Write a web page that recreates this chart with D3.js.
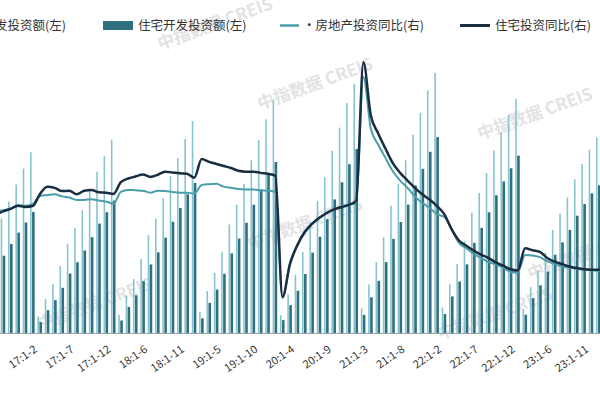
<!DOCTYPE html>
<html><head><meta charset="utf-8">
<script src="https://cdn.jsdelivr.net/npm/d3@7"></script>
<style>body{margin:0;background:#fff}svg{font-family:"Noto Sans CJK SC",sans-serif}</style>
</head><body><svg id="c" width="600" height="400"></svg>
<script>
// months: Jan-Feb combined, 11 points per year
const years = [16, 17, 18, 19, 20, 21, 22, 23];
const months = ["1-2","1-3","1-4","1-5","1-6","1-7","1-8","1-9","1-10","1-11","1-12"];
const categories = [];
years.forEach(y => months.forEach(m => categories.push(y + ":" + m)));
categories.push("24:1-2");

// 房地产开发投资额 (亿元, cumulative)
const reInvest = [
  8975,17677,25917,35820,46631,55676,64964,74598,84254,93387,102581,
  9478,19292,27732,37970,50610,59761,69694,80644,91533,100387,109799,
  10357,21292,30592,42000,55531,64869,76519,88948,99325,110083,120264,
  12090,23803,34217,46075,61609,72843,84589,98008,109603,121265,132194,
  10115,21963,33103,45920,62780,74895,88454,103484,116556,130492,141443,
  13986,27576,40240,54318,72179,84895,98010,112559,124934,137681,147602,
  14499,27765,39154,52134,68314,79462,90809,103559,113945,123863,132895,
  13669,25974,35514,45701,58550,67717,76900,87269,95922,104045,110913,
  11842];
// 住宅开发投资额
const resInvest = [
  6047,11840,17409,24154,31412,37390,43870,50511,56968,62728,68704,
  6219,12963,18663,25647,33723,40127,46835,54434,62078,68563,75148,
  7084,14770,21377,29400,38894,45751,54117,63152,70902,78771,85192,
  8318,17099,24680,33585,45167,53621,62538,72756,81493,90174,97071,
  7314,15804,23965,33515,45618,54648,64649,75830,85553,95802,104446,
  10277,20271,29610,40227,53375,62972,72874,83792,93179,102865,111173,
  10739,20761,29227,38970,51179,59690,68528,78208,86022,93521,100646,
  10363,19767,27072,34866,44439,51448,58528,66592,73204,79280,83820,
  8996];
// 房地产投资同比 (%)
const reYoy = [
  3.0,6.2,7.2,7.0,6.1,5.3,5.4,5.8,6.6,6.5,6.9,
  8.9,9.1,9.3,8.8,8.5,7.9,7.9,8.1,7.8,7.5,7.0,
  9.9,10.4,10.3,10.2,9.7,10.2,10.1,9.9,9.7,9.7,9.5,
  11.6,11.8,11.9,11.2,10.9,10.6,10.5,10.5,10.3,10.2,9.9,
  -16.3,-7.7,-3.3,-0.3,1.9,3.4,4.6,5.6,6.3,6.8,7.0,
  38.3,25.6,21.6,18.3,15.0,12.7,10.9,8.8,7.2,6.0,4.4,
  3.7,0.7,-2.7,-4.0,-5.4,-6.4,-7.4,-8.0,-8.8,-9.8,-10.0,
  -5.7,-5.8,-6.2,-7.2,-7.9,-8.5,-8.8,-9.1,-9.3,-9.4,-9.6,
  -9.0];
// 住宅投资同比 (%)
const resYoy = [
  1.8,5.2,6.6,6.0,5.2,4.5,5.1,5.7,6.5,6.2,6.4,
  9.4,11.2,10.9,10.1,10.2,9.3,10.2,10.4,9.8,9.7,9.4,
  12.3,13.2,13.7,14.2,13.6,14.1,14.9,14.7,14.5,14.4,13.4,
  18.0,17.3,16.8,16.3,15.8,15.1,14.9,14.9,14.6,14.4,13.9,
  -16.0,-8.0,-3.3,0.0,2.0,3.5,4.7,5.6,6.1,6.7,7.6,
  41.9,28.8,24.4,20.6,17.0,14.6,12.7,10.9,9.3,8.0,6.4,
  4.4,0.7,-2.1,-3.4,-4.6,-5.6,-6.4,-7.5,-8.3,-9.2,-9.5,
  -4.0,-4.5,-4.9,-6.4,-7.3,-7.9,-8.5,-8.9,-9.2,-9.3,-9.3,
  -9.7];
const tickLabels = ["17:1-2","17:1-7","17:1-12","18:1-6","18:1-11","19:1-5","19:1-10","20:1-4",
  "20:1-9","21:1-3","21:1-8","22:1-2","22:1-7","22:1-12","23:1-6","23:1-11","24:1-4"];

const cLight = "#86c5d0", cDark = "#2f6f80", cLineRe = "#4a9eab", cLineRes = "#1b2d40";
const svg = d3.select("#c");
const base = 333;

// watermarks
const wm = [[260,110],[480,140],[40,330],[250,250],[530,280],[160,50],[440,340]];
svg.append("g").selectAll("text").data(wm).join("text")
  .attr("transform", d => `translate(${d[0]},${d[1]}) rotate(-20)`)
  .attr("font-size", 17).attr("fill", "#e3e3e3").attr("font-weight", "bold")
  .text("中指数据 CREIS");

const x = d3.scalePoint().domain(categories).range([-40.85, -40.85 + 88 * 7.35]);
const yL = d3.scaleLinear().domain([0, 189000]).range([base, 0]);
const yR = d3.scaleLinear().domain([-20, 50]).range([313, 29.5]);

svg.append("g").selectAll("rect").data(categories).join("rect")
  .attr("x", d => x(d) - 2.6).attr("width", 1.6)
  .attr("y", (d, i) => yL(reInvest[i])).attr("height", (d, i) => base - yL(reInvest[i]))
  .attr("fill", cLight);
svg.append("g").selectAll("rect").data(categories).join("rect")
  .attr("x", d => x(d) - 0.6).attr("width", 2.6)
  .attr("y", (d, i) => yL(resInvest[i])).attr("height", (d, i) => base - yL(resInvest[i]))
  .attr("fill", cDark);

svg.append("line").attr("x1", 0).attr("x2", 600).attr("y1", base + 0.5).attr("y2", base + 0.5)
  .attr("stroke", "#9aa4a8");

const line = arr => d3.line().x(d => x(d)).y((d, i) => yR(arr[i])).curve(d3.curveMonotoneX)(categories);
svg.append("path").attr("d", line(reYoy)).attr("fill", "none").attr("stroke", cLineRe).attr("stroke-width", 2);
svg.append("path").attr("d", line(resYoy)).attr("fill", "none").attr("stroke", cLineRes).attr("stroke-width", 2.5);

// x axis labels
svg.append("g").selectAll("text").data(tickLabels).join("text")
  .attr("transform", d => `translate(${x(d) - 2},${base + 18}) rotate(-35)`)
  .attr("text-anchor", "end").attr("font-size", 11).attr("fill", "#333").text(d => d);

// legend
const lg = svg.append("g").attr("font-size", 12.5).attr("fill", "#333");
lg.append("text").attr("x", 66).attr("y", 30).attr("text-anchor", "end").text("房地产开发投资额(左)");
lg.append("rect").attr("x", 103).attr("y", 21).attr("width", 30).attr("height", 9).attr("fill", cDark);
lg.append("text").attr("x", 138).attr("y", 30).text("住宅开发投资额(左)");
lg.append("line").attr("x1", 280).attr("x2", 299).attr("y1", 25.5).attr("y2", 25.5).attr("stroke", cLineRe).attr("stroke-width", 2.5);
lg.append("text").attr("x", 303).attr("y", 30).text("·房地产投资同比(右)");
lg.append("line").attr("x1", 460).attr("x2", 490).attr("y1", 25.5).attr("y2", 25.5).attr("stroke", cLineRes).attr("stroke-width", 3);
lg.append("text").attr("x", 495).attr("y", 30).text("住宅投资同比(右)");
</script></body></html>
